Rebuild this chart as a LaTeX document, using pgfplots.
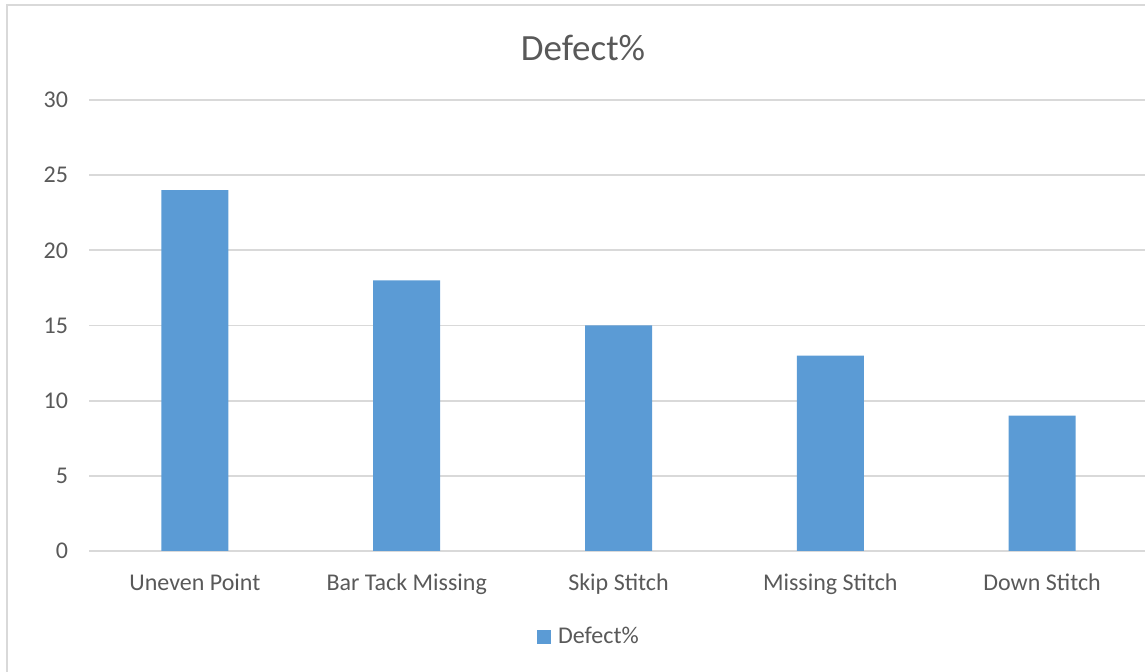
\documentclass[border=0pt]{standalone}
\usepackage{fontspec}
\setmainfont{Carlito}
\usepackage{pgfplots}
\pgfplotsset{compat=1.18}
\definecolor{barblue}{HTML}{5B9BD5}
\definecolor{textgray}{HTML}{595959}
\definecolor{gridgray}{HTML}{D9D9D9}
\begin{document}
\begin{tikzpicture}
% page is 1145 x 672 px at 0.5pt per px
\path[use as bounding box, clip] (0,0) rectangle (572.5pt,336pt);
\draw[gridgray, line width=1pt] (3.6pt,-20pt) rectangle (590pt,333.5pt);
\node[text=textgray, font=\fontsize{18.5}{22}\selectfont] at (291.5pt,312pt) {Defect\%};
\begin{axis}[
  at={(44.5pt,60.5pt)}, anchor=south west,
  scale only axis, width=529.5pt, height=225.5pt,
  xmin=-0.5, xmax=4.5, ymin=0, ymax=30,
  ytick={0,5,...,30},
  xtick={0,1,2,3,4},
  xticklabels={Uneven Point, Bar Tack Missing, Skip Stitch, Missing Stitch, Down Stitch},
  axis lines*=left,
  y axis line style={draw=none},
  x axis line style={draw=gridgray, line width=1pt, -},
  major tick length=0pt,
  ymajorgrids, grid style={gridgray, line width=0.9pt},
  /pgf/number format/assume math mode=true,
  tick label style={text=textgray, font=\fontsize{12}{14}\selectfont},
  yticklabel style={anchor=east, xshift=-7pt},
  xticklabel style={anchor=north, yshift=-8pt},
  ybar, bar width=33.5pt,
  legend style={at={(0.473,-0.19)}, anchor=center, draw=none,
    font=\fontsize{12}{14}\selectfont, text=textgray},
  legend image code/.code={\fill[barblue] (0pt,-3.5pt) rectangle (7pt,3.5pt);},
]
\addplot[fill=barblue, draw=none] coordinates {(0,24) (1,18) (2,15) (3,13) (4,9)};
\addlegendentry{\hspace{1.5pt}Defect\%}
\end{axis}
\end{tikzpicture}
\end{document}
